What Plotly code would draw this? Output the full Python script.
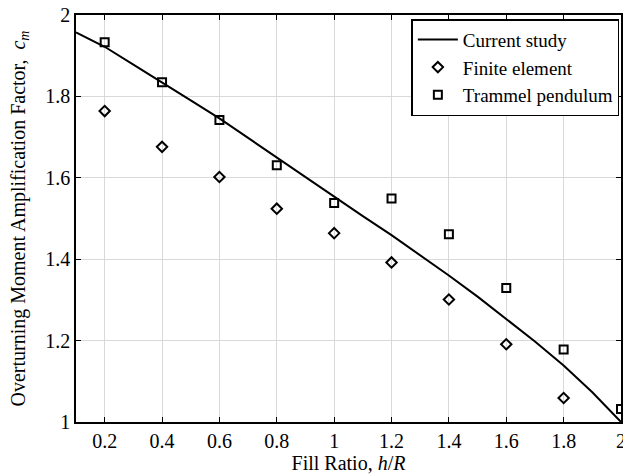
import plotly.graph_objects as go

# Data
x_line = [0.1, 0.2, 0.3, 0.4, 0.5, 0.6, 0.7, 0.8, 0.9, 1.0,
          1.1, 1.2, 1.3, 1.4, 1.5, 1.6, 1.7, 1.8, 1.9, 2.0]
current_study = [1.957, 1.922, 1.878, 1.833, 1.790, 1.746, 1.698, 1.648, 1.600, 1.553,
                 1.506, 1.459, 1.410, 1.360, 1.308, 1.254, 1.198, 1.139, 1.073, 1.000]

x_fe = [0.2, 0.4, 0.6, 0.8, 1.0, 1.2, 1.4, 1.6, 1.8]
finite_element = [1.764, 1.676, 1.602, 1.524, 1.464, 1.392, 1.301, 1.191, 1.059]

x_tp = [0.2, 0.4, 0.6, 0.8, 1.0, 1.2, 1.4, 1.6, 1.8, 2.0]
trammel_pendulum = [1.933, 1.835, 1.742, 1.631, 1.538, 1.549, 1.461, 1.329, 1.178, 1.032]

x_ticks = [0.2, 0.4, 0.6, 0.8, 1.0, 1.2, 1.4, 1.6, 1.8, 2.0]
x_ticklabels = ["0.2", "0.4", "0.6", "0.8", "1", "1.2", "1.4", "1.6", "1.8", "2"]
y_ticks = [1.0, 1.2, 1.4, 1.6, 1.8, 2.0]
y_ticklabels = ["1", "1.2", "1.4", "1.6", "1.8", "2"]

FONT = "Liberation Serif"

fig = go.Figure()
fig.add_trace(go.Scatter(x=x_line, y=current_study, mode="lines", name="Current study",
                         line=dict(color="black", width=2), cliponaxis=False))
fig.add_trace(go.Scatter(x=x_fe, y=finite_element, mode="markers", name="Finite element",
                         marker=dict(symbol="diamond-open", size=8, color="black",
                                     line=dict(width=2, color="black")), cliponaxis=False))
fig.add_trace(go.Scatter(x=x_tp, y=trammel_pendulum, mode="markers", name="Trammel pendulum",
                         marker=dict(symbol="square-open", size=8, color="black",
                                     line=dict(width=2, color="black")), cliponaxis=False))

axis_common = dict(
    showgrid=True, gridcolor="#d9d9d9", gridwidth=1,
    showline=True, linecolor="black", linewidth=1.5, mirror="ticks",
    ticks="inside", ticklen=5, tickcolor="black", tickwidth=1,
    zeroline=False, ticklabeloverflow="allow", automargin=False,
    tickfont=dict(family=FONT, size=20, color="black"),
)

fig.update_layout(
    width=623, height=474,
    margin=dict(l=76, r=2, t=15, b=52),
    paper_bgcolor="white", plot_bgcolor="white",
    font=dict(family=FONT, color="black"),
    showlegend=True,
    legend=dict(x=0.997, y=0.99, xanchor="right", yanchor="top",
                bgcolor="white", bordercolor="black", borderwidth=1.5,
                font=dict(family=FONT, size=19, color="black"),
                tracegroupgap=0, itemwidth=40),
    xaxis=dict(axis_common, range=[0.1, 2.0], tickvals=x_ticks, ticktext=x_ticklabels,
               title=dict(text="Fill Ratio, <i>h</i>/<i>R</i>",
                          font=dict(family=FONT, size=20, color="black"), standoff=1)),
    yaxis=dict(axis_common, range=[1.0, 2.0], tickvals=y_ticks, ticktext=y_ticklabels,
               title=dict(text="Overturning Moment Amplification Factor,  <i>c</i><sub><i>m</i></sub>",
                          font=dict(family=FONT, size=20, color="black"), standoff=14)),
)

fig.write_html("out.html")
